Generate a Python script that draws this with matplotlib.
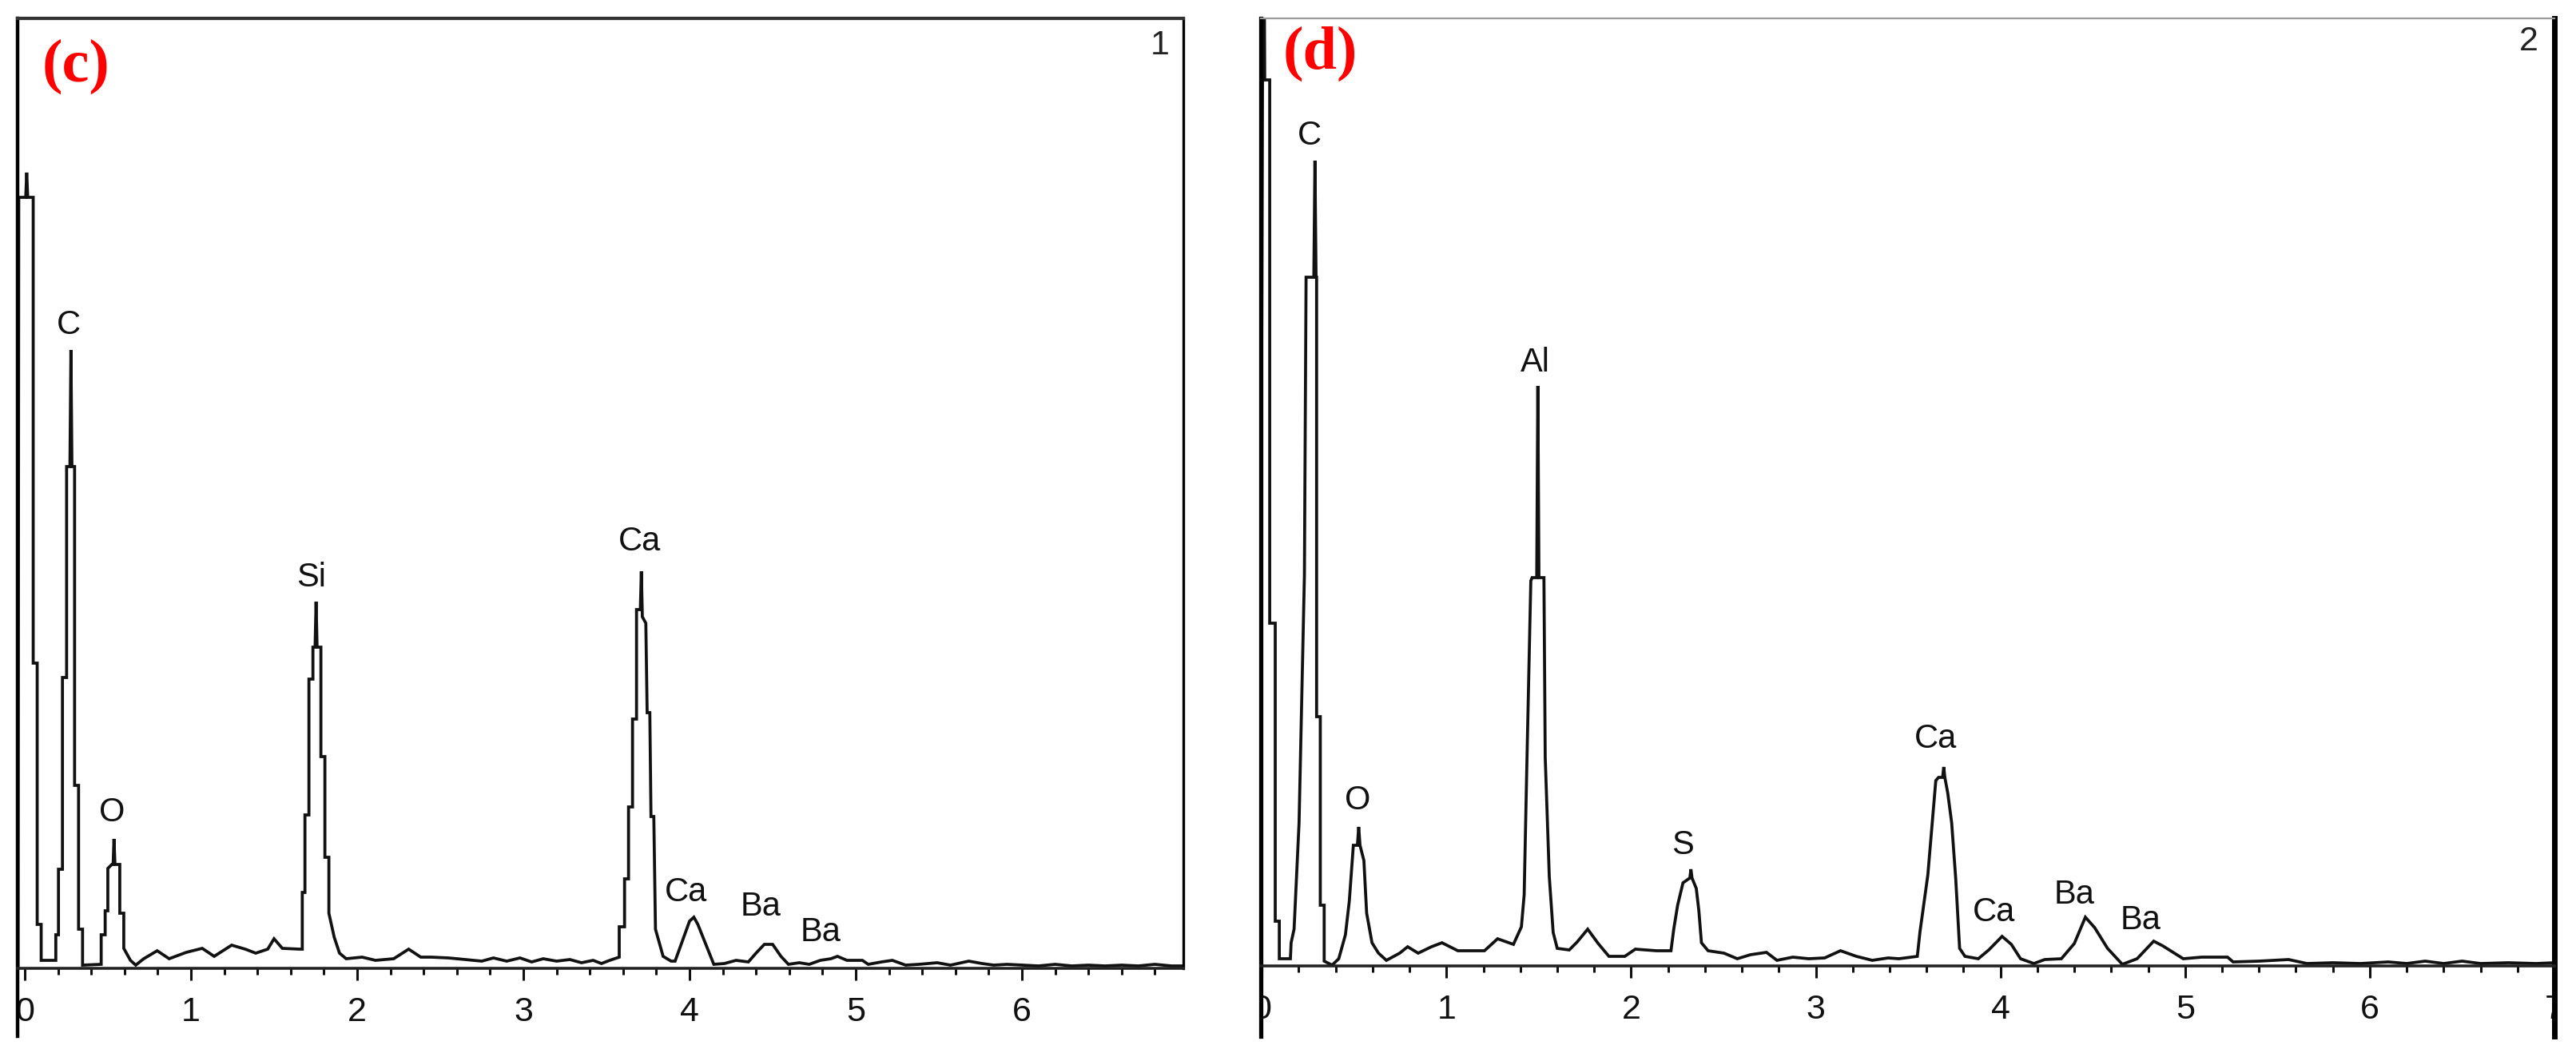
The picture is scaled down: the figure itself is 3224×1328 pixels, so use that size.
import matplotlib
matplotlib.use("Agg")
import matplotlib.pyplot as plt
from matplotlib.ticker import FixedLocator, MultipleLocator, FixedFormatter

SANS = "Liberation Sans"
plt.rcParams["font.family"] = [SANS, "DejaVu Sans"]

# ---------------- data: panel (c) ----------------
c_kev = [-0.040, -0.036, 0.006, 0.012, 0.018, 0.051, 0.051, 0.075, 0.075, 0.099, 0.099,
         0.187, 0.187, 0.203, 0.203, 0.227, 0.227, 0.252, 0.252, 0.272, 0.278, 0.284, 0.300,
         0.300, 0.324, 0.324, 0.348, 0.348, 0.460, 0.460, 0.484, 0.484, 0.500, 0.500, 0.524,
         0.532, 0.537, 0.543, 0.572, 0.572, 0.596, 0.596, 0.636, 0.668, 0.716, 0.797, 0.869,
         0.972, 1.068, 1.140, 1.245, 1.327, 1.390, 1.462, 1.500, 1.550, 1.654, 1.670, 1.670,
         1.686, 1.686, 1.710, 1.710, 1.734, 1.734, 1.747, 1.753, 1.759, 1.782, 1.782, 1.806,
         1.806, 1.830, 1.830, 1.862, 1.894, 1.934, 2.030, 2.110, 2.220, 2.310, 2.383, 2.447,
         2.550, 2.650, 2.750, 2.820, 2.900, 2.980, 3.050, 3.120, 3.200, 3.280, 3.350, 3.420,
         3.470, 3.520, 3.577, 3.577, 3.609, 3.609, 3.633, 3.633, 3.657, 3.657, 3.681, 3.681,
         3.704, 3.710, 3.716, 3.737, 3.745, 3.761, 3.768, 3.785, 3.795, 3.841, 3.889, 3.913,
         3.953, 4.000, 4.026, 4.050, 4.100, 4.146, 4.210, 4.280, 4.354, 4.400, 4.450, 4.500,
         4.550, 4.595, 4.660, 4.720, 4.787, 4.850, 4.890, 4.947, 5.040, 5.075, 5.155, 5.220,
         5.300, 5.380, 5.490, 5.570, 5.680, 5.760, 5.830, 5.910, 6.000, 6.100, 6.200, 6.300,
         6.400, 6.500, 6.600, 6.700, 6.800, 6.900, 6.980]
c_counts = [0, 965, 965, 996, 965, 965, 382, 382, 55, 55, 10,
            10, 42, 42, 124, 124, 364, 364, 628, 628, 774, 628, 628,
            229, 229, 49, 49, 4, 5, 42, 42, 72, 72, 125, 130,
            130, 162, 130, 130, 69, 69, 25, 10, 4, 12, 22, 12,
            20, 25, 15, 29, 24, 19, 24, 37, 25, 24, 24, 95,
            95, 192, 192, 362, 362, 402, 402, 459, 402, 402, 265, 265,
            139, 139, 69, 39, 19, 12, 14, 10, 12, 24, 14, 14,
            13, 11, 9, 13, 9, 13, 8, 12, 9, 11, 7, 10,
            6, 10, 14, 52, 52, 112, 112, 202, 202, 312, 312, 449,
            449, 497, 440, 432, 320, 320, 190, 190, 49, 15, 9, 9,
            32, 59, 64, 55, 29, 5, 6, 10, 8, 19, 30, 30,
            15, 5, 7, 5, 10, 12, 15, 10, 10, 5, 8, 10,
            4, 5, 7, 4, 9, 6, 4, 5, 4, 3, 5, 3,
            4, 3, 4, 3, 5, 3, 3]

# ---------------- data: panel (d) ----------------
d_kev = [-0.010, 0.004, 0.009, 0.012, 0.016, 0.043, 0.043, 0.073, 0.073, 0.095, 0.095,
         0.155, 0.159, 0.175, 0.202, 0.231, 0.240, 0.282, 0.288, 0.294, 0.297, 0.297, 0.317,
         0.317, 0.338, 0.338, 0.381, 0.417, 0.453, 0.474, 0.496, 0.518, 0.525, 0.532, 0.553,
         0.568, 0.597, 0.632, 0.675, 0.747, 0.790, 0.847, 0.919, 0.976, 1.062, 1.206, 1.277,
         1.363, 1.406, 1.421, 1.435, 1.457, 1.464, 1.489, 1.495, 1.501, 1.528, 1.535, 1.557,
         1.578, 1.600, 1.665, 1.708, 1.765, 1.822, 1.880, 1.966, 2.023, 2.138, 2.216, 2.231,
         2.252, 2.281, 2.318, 2.324, 2.330, 2.353, 2.367, 2.381, 2.417, 2.503, 2.575, 2.646,
         2.733, 2.790, 2.876, 2.962, 3.048, 3.134, 3.220, 3.306, 3.392, 3.450, 3.550, 3.564,
         3.586, 3.607, 3.629, 3.650, 3.665, 3.687, 3.693, 3.699, 3.715, 3.736, 3.758, 3.779,
         3.808, 3.880, 3.937, 4.009, 4.059, 4.109, 4.181, 4.240, 4.330, 4.400, 4.460, 4.510,
         4.580, 4.660, 4.740, 4.830, 4.880, 4.990, 5.090, 5.230, 5.260, 5.400, 5.560, 5.660,
         5.800, 5.950, 6.100, 6.200, 6.300, 6.400, 6.500, 6.600, 6.750, 6.900, 7.000]
d_counts = [20, 1109, 1109, 1300, 1109, 1109, 429, 429, 56, 56, 9,
            9, 29, 46, 179, 489, 862, 862, 1008, 862, 862, 312, 312,
            76, 76, 6, 1, 9, 39, 81, 151, 151, 174, 151, 132,
            66, 29, 16, 7, 16, 24, 16, 24, 29, 19, 19, 34,
            27, 49, 89, 246, 482, 486, 486, 726, 486, 486, 261, 112,
            42, 22, 20, 30, 46, 28, 12, 12, 21, 19, 19, 46,
            76, 104, 110, 121, 110, 97, 69, 29, 19, 16, 9, 14,
            17, 7, 11, 9, 10, 19, 12, 7, 10, 9, 12, 42,
            79, 114, 174, 232, 236, 236, 249, 236, 216, 179, 109, 22,
            12, 9, 20, 37, 27, 9, 3, 8, 9, 28, 61, 48,
            22, 2, 9, 31, 25, 9, 11, 11, 5, 6, 8, 3,
            4, 3, 5, 3, 6, 3, 6, 3, 4, 3, 4]

# ---------------- peak labels ----------------
c_labels = ["C", "O", "Si", "Ca", "Ca", "Ba", "Ba"]
c_label_kev = [0.264, 0.524, 1.726, 3.700, 3.976, 4.430, 4.790]
c_label_h = [805, 195, 489, 534, 95, 77, 45]

d_labels = ["C", "O", "Al", "S", "Ca", "Ca", "Ba", "Ba"]
d_label_kev = [0.258, 0.520, 1.480, 2.280, 3.650, 3.966, 4.400, 4.760]
d_label_h = [1039, 207, 755, 151, 284, 67, 89, 57]

c_major = [0, 1, 2, 3, 4, 5, 6]
d_major = [0, 1, 2, 3, 4, 5, 6, 7]

W, H = 3224, 1328
fig = plt.figure(figsize=(W / 100, H / 100), dpi=100)
fig.patch.set_facecolor("white")


def make_panel(rect, xlim, ylim, kev, counts, majors, labels, lk, lh,
               lw_left, lw_top, lw_right, top_color, right_full):
    ax = fig.add_axes(rect)
    ax.plot(kev, counts, color="#111111", lw=2.7, solid_joinstyle="miter")
    ax.set_xlim(*xlim)
    ax.set_ylim(*ylim)
    ax.set_yticks([])
    ax.xaxis.set_major_locator(FixedLocator(majors))
    ax.xaxis.set_major_formatter(FixedFormatter([str(m) for m in majors]))
    ax.xaxis.set_minor_locator(MultipleLocator(0.2))
    ax.tick_params(axis="x", which="major", direction="out", length=11, width=2.2,
                   pad=14, color="#111111", labelsize=31, labelcolor="#111111")
    ax.tick_params(axis="x", which="minor", direction="out", length=5.5, width=2.2,
                   color="#111111")
    ax.spines["bottom"].set_position(("data", 0))
    ax.spines["bottom"].set_linewidth(2.6)
    ax.spines["bottom"].set_color("#222222")
    ax.spines["left"].set_linewidth(lw_left)
    ax.spines["left"].set_color("black")
    ax.spines["top"].set_linewidth(lw_top)
    ax.spines["top"].set_color(top_color)
    ax.spines["right"].set_linewidth(lw_right)
    ax.spines["right"].set_color("black")
    if not right_full:
        ax.spines["right"].set_bounds(0, ylim[1])
    for t, x, y in zip(labels, lk, lh):
        ax.text(x, y, t, ha="center", va="center", fontsize=30, color="#111111")
    return ax


axc = make_panel([22 / W, 31 / H, 1459 / W, 1274 / H], (-0.043, 6.971), (-85, 1189),
                 c_kev, c_counts, c_major, c_labels, c_label_kev, c_label_h,
                 3.2, 3.0, 2.4, "#333333", False)
axd = make_panel([1578 / W, 31 / H, 1619 / W, 1274 / H], (-0.005, 7.0), (-88, 1186),
                 d_kev, d_counts, d_major, d_labels, d_label_kev, d_label_h,
                 3.8, 1.6, 5.0, "#9a9a9a", True)

# panel letters and spectrum numbers
fig.text(95 / W, 1 - 83 / H, "(c)", color="#ff0000", fontsize=55, fontweight="bold",
         family="Liberation Serif", ha="center", va="center")
fig.text(1652 / W, 1 - 67 / H, "(d)", color="#ff0000", fontsize=55, fontweight="bold",
         family="Liberation Serif", ha="center", va="center")
fig.text(1452 / W, 1 - 57 / H, "1", color="#222222", fontsize=31,
         ha="center", va="center")
fig.text(3165 / W, 1 - 52 / H, "2", color="#222222", fontsize=31,
         ha="center", va="center")

# clip the tick labels at the frame edges (the 0 and 7 are cut in the original)
fig.canvas.draw()
for ax in (axc, axd):
    for tk in ax.xaxis.get_major_ticks():
        tk.label1.set_clip_on(True)
        tk.label1.set_clip_box(ax.bbox)

fig.savefig("out.png", dpi=100, facecolor="white")
